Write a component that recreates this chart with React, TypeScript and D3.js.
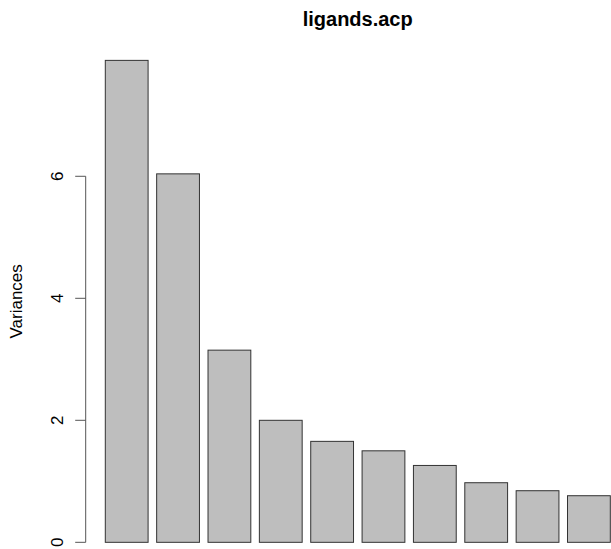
import React from "react";
import * as d3 from "d3";

// screeplot of ligands.acp (variances per component)
const components = ["Comp.1", "Comp.2", "Comp.3", "Comp.4", "Comp.5", "Comp.6", "Comp.7", "Comp.8", "Comp.9", "Comp.10"];
const variances = [7.9, 6.04, 3.15, 2.0, 1.655, 1.5, 1.26, 0.977, 0.846, 0.764];
const yTicks = [0, 2, 4, 6];
const title = "ligands.acp";
const yLabel = "Variances";

const W = 611;
const H = 549;

export default function App() {
  // barplot layout, R style: width 1, space 0.2
  const space = 0.2;
  const lefts = components.map((_, i) => space + i * (1 + space));
  const xmin = lefts[0];
  const xmax = lefts[lefts.length - 1] + 1;
  const xpad = (xmax - xmin) * 0.04;
  const ymax = d3.max(variances) as number;
  const ypad = ymax * 0.04;

  const x = d3.scaleLinear().domain([xmin - xpad, xmax + xpad]).range([85.1, 630.5]);
  const y = d3.scaleLinear().domain([-ypad, ymax + ypad]).range([561.6, 41.1]);

  const axisX = 85.7;
  const font = "'Liberation Sans', Arial, sans-serif";

  return (
    <svg width={W} height={H} style={{ position: "absolute", left: 0, top: 0, background: "#fff" }}>
      <text x={357.7} y={26} textAnchor="middle" fontFamily={font} fontWeight="bold" fontSize={20}>
        {title}
      </text>
      {variances.map((v, i) => (
        <rect
          key={components[i]}
          x={x(lefts[i])}
          y={y(v)}
          width={x(lefts[i] + 1) - x(lefts[i])}
          height={y(0) - y(v)}
          fill="#bebebe"
          stroke="#333"
          strokeWidth={1}
        />
      ))}
      <line x1={axisX} x2={axisX} y1={y(yTicks[0])} y2={y(yTicks[yTicks.length - 1])} stroke="#555" />
      {yTicks.map((t) => (
        <g key={t}>
          <line x1={axisX - 10.5} x2={axisX} y1={y(t)} y2={y(t)} stroke="#555" />
          <text
            transform={`translate(${63},${y(t)}) rotate(-90)`}
            textAnchor="middle"
            fontFamily={font}
            fontSize={17}
          >
            {t}
          </text>
        </g>
      ))}
      <text
        transform={`translate(${22},${(y.range()[0] + y.range()[1]) / 2}) rotate(-90)`}
        textAnchor="middle"
        fontFamily={font}
        fontSize={17}
      >
        {yLabel}
      </text>
    </svg>
  );
}
